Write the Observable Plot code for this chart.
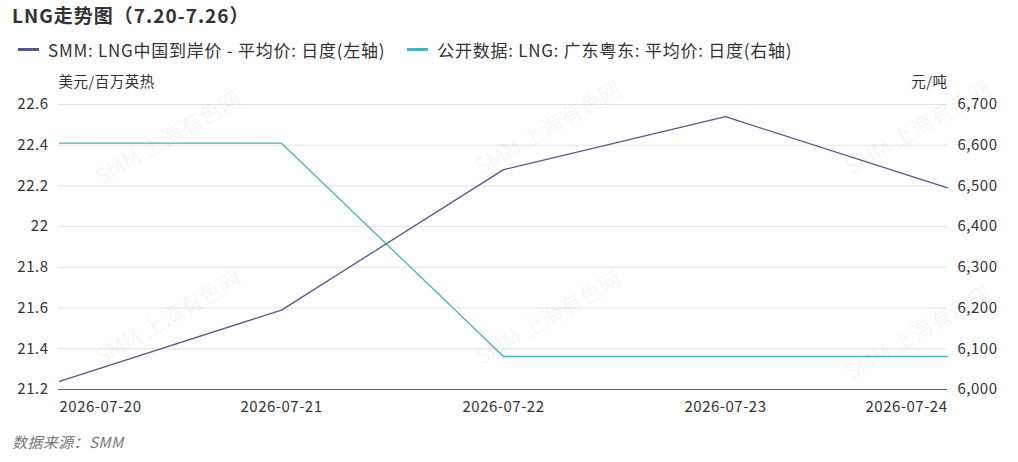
<!DOCTYPE html>
<html>
<head>
<meta charset="utf-8">
<script src="https://cdn.jsdelivr.net/npm/d3@7"></script>
<script src="https://cdn.jsdelivr.net/npm/@observablehq/plot@0.6"></script>
<style>
  html, body { margin: 0; padding: 0; background: #fff; }
  body { width: 1018px; height: 462px; position: relative; overflow: hidden;
         font-family: "Noto Sans CJK SC", "Noto Sans", sans-serif; color: #333; }
  #title { position: absolute; left: 12px; top: 1px; font-size: 19px; font-weight: bold; color: #333; letter-spacing: 1px; }
  #legend { position: absolute; left: 18px; top: 37px; font-size: 17px; color: #333; display: flex; align-items: center; letter-spacing: 0.75px; }
  .item { display: flex; align-items: center; margin-right: 22px; }
  .sw { width: 21px; height: 3px; margin-right: 9px; }
  #chart { position: absolute; left: 0; top: 64px; }
  #caption { position: absolute; left: 12px; top: 431px; font-size: 15px; font-style: italic; color: #777; letter-spacing: 0.4px; }
  .wm { position: absolute; font-size: 22px; color: rgba(0,0,0,0.05); transform: rotate(-30deg); white-space: nowrap; pointer-events: none; }
</style>
</head>
<body>
<div id="title"></div>
<div id="legend"></div>
<div id="chart"></div>
<div id="caption">数据来源：SMM</div>
<div class="wm" style="left:85px; top:120px;">SMM 上海有色网</div>
<div class="wm" style="left:465px; top:110px;">SMM 上海有色网</div>
<div class="wm" style="left:835px; top:110px;">SMM 上海有色网</div>
<div class="wm" style="left:85px; top:300px;">SMM 上海有色网</div>
<div class="wm" style="left:465px; top:300px;">SMM 上海有色网</div>
<div class="wm" style="left:835px; top:315px;">SMM 上海有色网</div>
<script>
const titleText = "LNG走势图（7.20-7.26）";
const seriesNames = ["SMM: LNG中国到岸价 - 平均价: 日度(左轴)", "公开数据: LNG: 广东粤东: 平均价: 日度(右轴)"];
const seriesColors = ["#515a8a", "#4db1c2"];
const leftUnit = "美元/百万英热";
const rightUnit = "元/吨";
const dates = ["2026-07-20", "2026-07-21", "2026-07-22", "2026-07-23", "2026-07-24"];
const lngChina = [21.24, 21.59, 22.28, 22.54, 22.19];
const gdYuedong = [6605, 6605, 6081, 6081, 6081];
const leftTicks = [21.2, 21.4, 21.6, 21.8, 22, 22.2, 22.4, 22.6];
const rightTicks = [6000, 6100, 6200, 6300, 6400, 6500, 6600, 6700];

document.getElementById("title").textContent = titleText;
const leg = document.getElementById("legend");
seriesNames.forEach((n, i) => {
  const it = document.createElement("div"); it.className = "item";
  const sw = document.createElement("div"); sw.className = "sw"; sw.style.background = seriesColors[i];
  const tx = document.createElement("span"); tx.textContent = n;
  it.appendChild(sw); it.appendChild(tx); leg.appendChild(it);
});

const L0 = leftTicks[0], L1 = leftTicks[leftTicks.length - 1];
const R0 = rightTicks[0], R1 = rightTicks[rightTicks.length - 1];
const toLeft = v => L0 + (v - R0) / (R1 - R0) * (L1 - L0);
const fromLeft = v => R0 + (v - L0) / (L1 - L0) * (R1 - R0);

const left = dates.map((d, i) => ({date: d, v: lngChina[i]}));
const right = dates.map((d, i) => ({date: d, v: toLeft(gdYuedong[i])}));

const fmtR = d3.format(",");
const chart = Plot.plot({
  width: 1018,
  height: 362,
  marginLeft: 58,
  marginRight: 71,
  marginTop: 40,
  marginBottom: 37,
  style: {fontFamily: '"Noto Sans CJK SC", "Noto Sans", sans-serif', fontSize: "15px", color: "#333", background: "transparent", overflow: "visible", letterSpacing: "0.5px"},
  x: {type: "point", domain: dates, padding: 0},
  y: {domain: [L0, L1]},
  marks: [
    Plot.gridY(leftTicks, {stroke: "#e3e3e3", strokeOpacity: 1, strokeWidth: 1}),
    Plot.ruleY([L0], {stroke: "#666", strokeWidth: 1.2}),
    Plot.axisY(leftTicks, {anchor: "left", tickSize: 0, tickPadding: 10, fontSize: 15, fill: "#333", label: null, tickFormat: d => String(d)}),
    Plot.axisY(rightTicks.map(toLeft), {anchor: "right", tickSize: 0, tickPadding: 10, fontSize: 15, fill: "#333", label: null, tickFormat: v => fmtR(Math.round(fromLeft(v)))}),
    Plot.axisX([dates[0]], {tickSize: 0, tickPadding: 12, fontSize: 15, fill: "#333", textAnchor: "start", label: null}),
    Plot.axisX(dates.slice(1, -1), {tickSize: 0, tickPadding: 12, fontSize: 15, fill: "#333", label: null}),
    Plot.axisX([dates[dates.length - 1]], {tickSize: 0, tickPadding: 12, fontSize: 15, fill: "#333", textAnchor: "end", label: null}),
    Plot.text([leftUnit], {frameAnchor: "top-left", dy: -28, text: d => d, fontSize: 14.5, fill: "#333", textAnchor: "start"}),
    Plot.text([rightUnit], {frameAnchor: "top-right", dy: -28, text: d => d, fontSize: 14.5, fill: "#333", textAnchor: "end"}),
    Plot.line(right, {x: "date", y: "v", stroke: seriesColors[1], strokeWidth: 1.3}),
    Plot.line(left, {x: "date", y: "v", stroke: seriesColors[0], strokeWidth: 1.3})
  ]
});
document.getElementById("chart").appendChild(chart);
</script>
</body>
</html>
